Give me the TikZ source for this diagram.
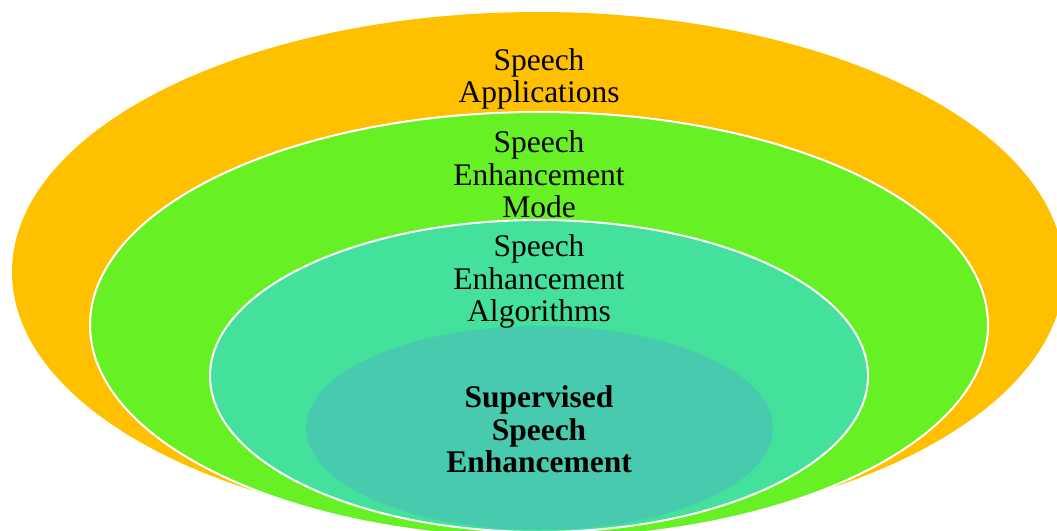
\documentclass[tikz,border=0pt]{standalone}
\usepackage{fontspec}
\setmainfont{Liberation Serif}
\usetikzlibrary{shapes.geometric}
\definecolor{ringA}{HTML}{FFC000}
\definecolor{ringB}{HTML}{67F024}
\definecolor{ringC}{HTML}{43E19B}
\definecolor{ringD}{HTML}{48CAAE}
\begin{document}
\begin{tikzpicture}[x=1pt,y=-1pt,
  ring/.style={ellipse,inner sep=0pt,outer sep=0pt},
  rim/.style={draw=white,line width=2pt},
  lbl/.style={align=center,anchor=base,inner sep=0pt,
    font=\fontsize{31.5}{32.5}\selectfont}]
\useasboundingbox (0,0) rectangle (1057,530);
\clip (0,0) rectangle (1057,530);
% nested rings, outermost first
\node[ring,fill=ringA,minimum width=1052pt,minimum height=520pt] (apps) at (538,272) {};
\node[ring,fill=ringB,rim,minimum width=898pt,minimum height=426pt] (mode) at (539,325) {};
\node[ring,fill=ringC,rim,minimum width=658pt,minimum height=312pt] (algo) at (539,376) {};
\node[ring,fill=ringD,minimum width=467pt,minimum height=204pt] (sup) at (539.5,428) {};
% ring labels (anchored on the baseline of their last line)
\node[lbl] (tapps) at (539,102.5) {Speech\\Applications};
\node[lbl] (tmode) at (539,217.5) {Speech\\Enhancement\\Mode};
\node[lbl] (talgo) at (539,321.5) {Speech\\Enhancement\\Algorithms};
\node[lbl,font=\fontsize{31.5}{32.5}\selectfont\bfseries] (tsup) at (539,472.5) {Supervised\\Speech\\Enhancement};
\end{tikzpicture}
\end{document}
